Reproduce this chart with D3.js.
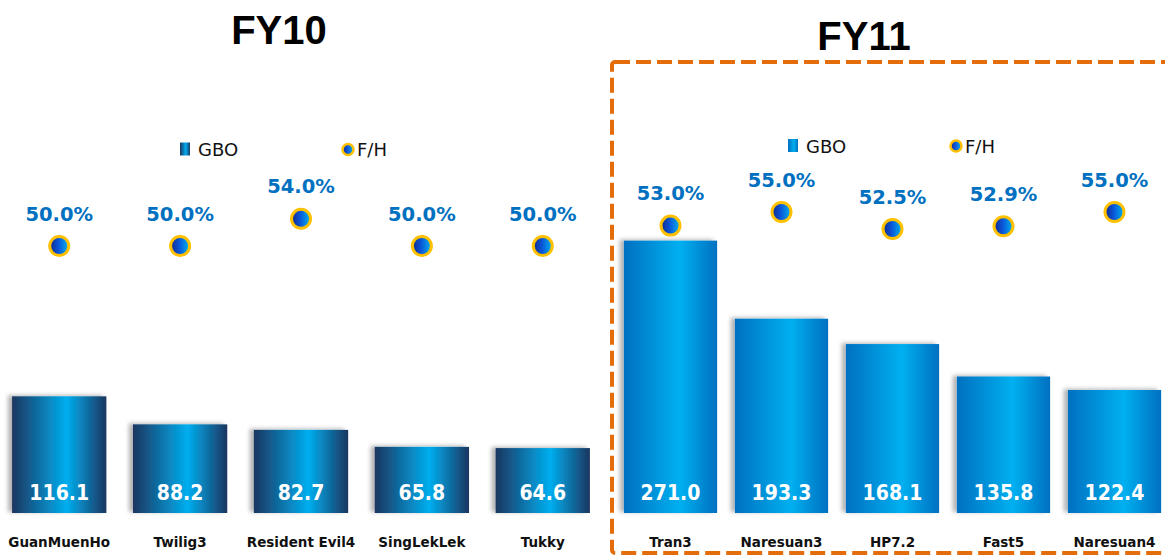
<!DOCTYPE html>
<html>
<head>
<meta charset="utf-8">
<script src="https://cdn.jsdelivr.net/npm/d3@7"></script>
<style>
  html, body { margin: 0; padding: 0; background: #fff; }
  svg { display: block; }
  text { font-family: "DejaVu Sans", Verdana, sans-serif; }
</style>
</head>
<body>
<div id="chart"></div>
<script>
// ── Data ────────────────────────────────────────────────────────────────
const fy10Films = ['GuanMuenHo', 'Twilig3', 'Resident Evil4', 'SingLekLek', 'Tukky'];
const fy10Gbo   = [116.1, 88.2, 82.7, 65.8, 64.6];
const fy10Fh    = [50.0, 50.0, 54.0, 50.0, 50.0];

const fy11Films = ['Tran3', 'Naresuan3', 'HP7.2', 'Fast5', 'Naresuan4'];
const fy11Gbo   = [271.0, 193.3, 168.1, 135.8, 122.4];
const fy11Fh    = [53.0, 55.0, 52.5, 52.9, 55.0];

const W = 1165, H = 558;

const svg = d3.select('#chart').append('svg')
  .attr('width', W).attr('height', H);

const defs = svg.append('defs');

// ── Gradients ───────────────────────────────────────────────────────────
function hGrad(id, stops) {
  const g = defs.append('linearGradient').attr('id', id)
    .attr('x1', '0%').attr('x2', '100%').attr('y1', '0%').attr('y2', '0%');
  stops.forEach(([o, c]) => g.append('stop').attr('offset', o).attr('stop-color', c));
}
hGrad('bar10', [[0, '#1b3660'], [0.58, '#00aeef'], [1, '#1b3660']]);
hGrad('bar11', [[0, '#0070c0'], [0.6, '#00b0f0'], [1, '#0070c0']]);
hGrad('dot',   [[0, '#13288a'], [0.45, '#0a55d8'], [1, '#00b4f0']]);

// soft shadow to the left of bars
const f = defs.append('filter').attr('id', 'shadow')
  .attr('x', '-20%').attr('y', '-10%').attr('width', '140%').attr('height', '120%');
f.append('feDropShadow').attr('dx', -4).attr('dy', -1).attr('stdDeviation', 2)
  .attr('flood-color', '#000').attr('flood-opacity', 0.3);

// ── Shared scales ───────────────────────────────────────────────────────
const yBar = d3.scaleLinear().domain([0, 300]).range([513, 211.5]);
const yFh  = d3.scaleLinear().domain([40, 60]).range([314, 178]);

// ── FY11 dashed highlight box (drawn first, behind everything) ──────────
svg.append('rect')
  .attr('x', 612).attr('y', 62).attr('width', 620).attr('height', 491)
  .attr('rx', 3)
  .attr('fill', 'none').attr('stroke', '#e46c0a')
  .attr('stroke-width', 4).attr('stroke-dasharray', '15 6');

// ── Panel drawer ────────────────────────────────────────────────────────
function panel(opt) {
  const x = d3.scaleBand().domain(opt.films)
    .range(opt.range).paddingInner(opt.pin).paddingOuter(opt.pout);
  const rows = opt.films.map((f, i) => ({ film: f, gbo: opt.gbo[i], fh: opt.fh[i] }));
  const g = svg.append('g');

  // title
  g.append('text')
    .attr('x', opt.titleX).attr('y', opt.titleY)
    .attr('text-anchor', 'middle')
    .style('font-family', '"Liberation Sans", Arial, sans-serif')
    .attr('font-weight', 'bold').attr('font-size', 40)
    .text(opt.title);

  // bars
  g.selectAll('rect.bar').data(rows).join('rect')
    .attr('class', 'bar')
    .attr('x', d => x(d.film)).attr('width', x.bandwidth())
    .attr('y', d => yBar(d.gbo)).attr('height', d => yBar(0) - yBar(d.gbo))
    .attr('fill', `url(#${opt.grad})`)
    .attr('filter', 'url(#shadow)');

  // value labels inside bars
  g.selectAll('text.val').data(rows).join('text')
    .attr('class', 'val')
    .attr('x', d => x(d.film) + x.bandwidth() / 2).attr('y', 500)
    .attr('text-anchor', 'middle')
    .style('font-family', '"DejaVu Sans Condensed", "DejaVu Sans", sans-serif')
    .attr('font-weight', 'bold').attr('font-size', 21)
    .attr('fill', '#fff')
    .text(d => d.gbo.toFixed(1));

  // category labels
  g.selectAll('text.cat').data(rows).join('text')
    .attr('class', 'cat')
    .attr('x', d => x(d.film) + x.bandwidth() / 2).attr('y', 547)
    .attr('text-anchor', 'middle')
    .attr('font-weight', 'bold').attr('font-size', 13.5)
    .attr('fill', '#111')
    .text(d => d.film);

  // F/H markers
  g.selectAll('circle.fh').data(rows).join('circle')
    .attr('class', 'fh')
    .attr('cx', d => x(d.film) + x.bandwidth() / 2)
    .attr('cy', d => yFh(d.fh))
    .attr('r', 9.5)
    .attr('fill', 'url(#dot)')
    .attr('stroke', '#ffc000').attr('stroke-width', 3);

  g.selectAll('text.pct').data(rows).join('text')
    .attr('class', 'pct')
    .attr('x', d => x(d.film) + x.bandwidth() / 2)
    .attr('y', d => yFh(d.fh) - 25.5)
    .attr('text-anchor', 'middle')
    .attr('font-weight', 'bold').attr('font-size', 19.5)
    .attr('fill', '#0070c0')
    .text(d => d.fh.toFixed(1) + '%');

  // legend
  const L = opt.legend;
  g.append('rect')
    .attr('x', L.x).attr('y', L.y - 7).attr('width', 10).attr('height', 13)
    .attr('fill', `url(#${opt.grad})`);
  g.append('text')
    .attr('x', L.x + 18).attr('y', L.y + 6.5)
    .attr('font-size', 18).attr('fill', '#111')
    .text('GBO');
  g.append('circle')
    .attr('cx', L.x + 168).attr('cy', L.y).attr('r', 5.5)
    .attr('fill', 'url(#dot)')
    .attr('stroke', '#ffc000').attr('stroke-width', 2.5);
  g.append('text')
    .attr('x', L.x + 177).attr('y', L.y + 6.5)
    .attr('font-size', 18).attr('fill', '#111')
    .text('F/H');
}

panel({
  title: 'FY10', titleX: 279, titleY: 44,
  films: fy10Films, gbo: fy10Gbo, fh: fy10Fh,
  range: [0, 602], pin: 0.22, pout: 0.1,
  grad: 'bar10',
  legend: { x: 180, y: 149.5 }
});

panel({
  title: 'FY11', titleX: 864, titleY: 50,
  films: fy11Films, gbo: fy11Gbo, fh: fy11Fh,
  range: [615, 1170], pin: 0.16, pout: 0.08,
  grad: 'bar11',
  legend: { x: 788, y: 146 }
});
</script>
</body>
</html>
